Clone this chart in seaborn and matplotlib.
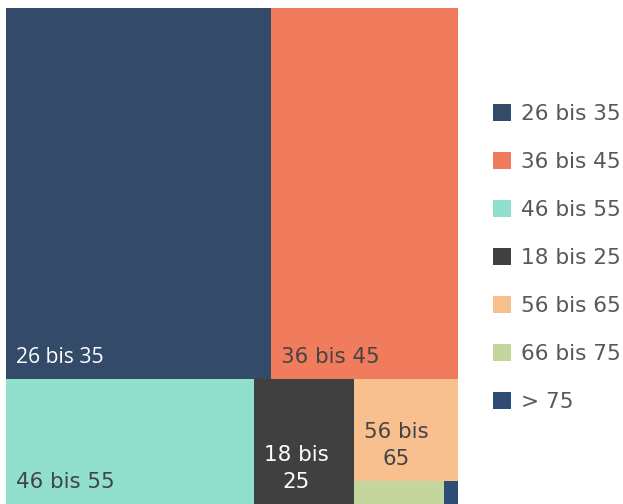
import matplotlib
matplotlib.use("Agg")
import matplotlib.pyplot as plt
import seaborn as sns
from matplotlib.patches import Rectangle, Patch

# Age groups and their share (in %)
age_groups = ["26 bis 35", "36 bis 45", "46 bis 55", "18 bis 25", "56 bis 65", "66 bis 75", "> 75"]
shares = [43.85, 30.95, 13.83, 5.58, 4.75, 0.92, 0.14]
colors = ["#334B69", "#F17B5D", "#91DFCD", "#404040", "#F9C08F", "#C4D69D", "#2E4C74"]
label_colors = ["white", "#444444", "#444444", "white", "#444444", "#444444", "white"]

W, H = 452, 496  # drawing area in pixels


def worst(row, side):
    s = sum(row)
    return max(max(side * side * r / (s * s), (s * s) / (side * side * r)) for r in row)


def squarify(values, x, y, w, h):
    """Squarified treemap layout, y grows downward."""
    rects = []
    vals = list(values)
    while vals:
        side = min(w, h)
        row = [vals[0]]
        i = 1
        while i < len(vals) and worst(row + [vals[i]], side) <= worst(row, side):
            row.append(vals[i])
            i += 1
        s = sum(row)
        if w >= h:
            cw = s / h
            yy = y
            for v in row:
                rects.append((x, yy, cw, v / cw))
                yy += v / cw
            x += cw
            w -= cw
        else:
            rh = s / w
            xx = x
            for v in row:
                rects.append((xx, y, v / rh, rh))
                xx += v / rh
            y += rh
            h -= rh
        vals = vals[i:]
    return rects


sns.set_style("white")
plt.rcParams["font.family"] = ["DejaVu Sans"]

fig = plt.figure(figsize=(6.23, 5.04), dpi=100)
ax = fig.add_axes([6 / 623, 0, W / 623, H / 504])
ax.set_xlim(0, W)
ax.set_ylim(H, 0)
ax.axis("off")

total = sum(shares)
areas = [s / total * W * H for s in shares]
rects = squarify(areas, 0, 0, W, H)

renderer = fig.canvas.get_renderer()
for k, ((x, y, w, h), name, col, tcol) in enumerate(zip(rects, age_groups, colors, label_colors)):
    ax.add_patch(Rectangle((x, y), w, h, facecolor=col, edgecolor="none"))
    # the biggest tile uses a narrower face in the original
    if k == 0:
        font, size = "Open Sans", 15.2
    else:
        font, size = "DejaVu Sans", 15.4
    t = ax.text(x + 10, y + h - 16, name, color=tcol, fontsize=size, family=font,
                ha="left", va="baseline", multialignment="center", linespacing=1.45)
    bb = t.get_window_extent(renderer)
    if bb.width > w - 18:
        head, tail = name.rsplit(" ", 1)
        t.set_text(head + "\n" + tail)
        bb = t.get_window_extent(renderer)
    if bb.height > h - 20 or bb.width > w - 10:
        t.remove()

handles = [Patch(facecolor=c, edgecolor="none") for c in colors]
fig.legend(handles, age_groups, loc="upper left", bbox_to_anchor=(486 / 623, 1 - 97 / 504),
           frameon=False, fontsize=15.6, labelcolor="#585858",
           handlelength=0.875, handleheight=0.875, handletextpad=0.46,
           labelspacing=1.28, borderaxespad=0, borderpad=0.3)

fig.savefig("out.png", dpi=100)
